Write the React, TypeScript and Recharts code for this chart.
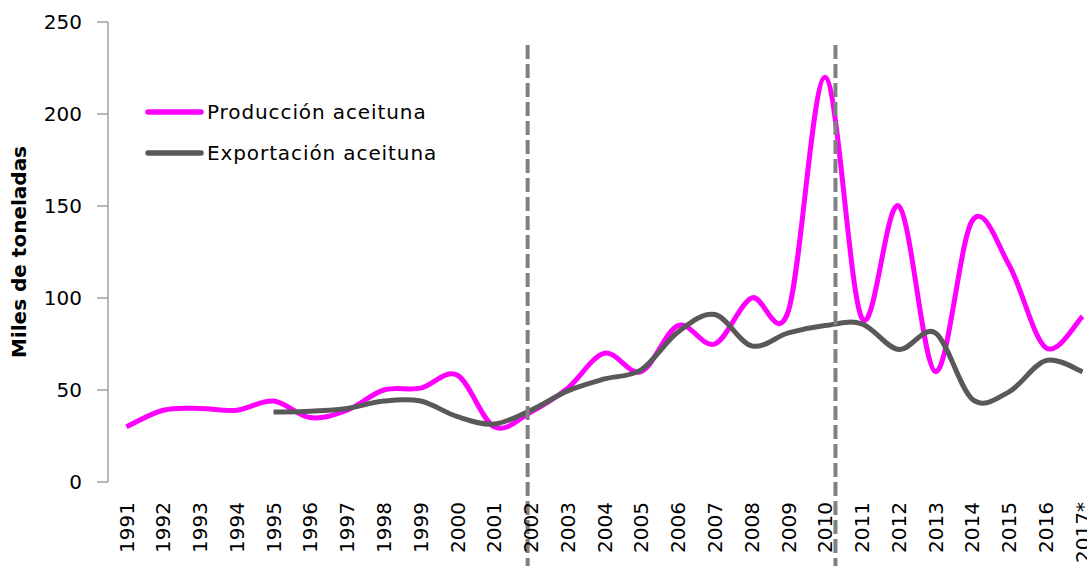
import { LineChart, Line, XAxis, YAxis, ReferenceLine, Legend } from 'recharts'

const years = [
  '1991', '1992', '1993', '1994', '1995', '1996', '1997', '1998', '1999',
  '2000', '2001', '2002', '2003', '2004', '2005', '2006', '2007', '2008',
  '2009', '2010', '2011', '2012', '2013', '2014', '2015', '2016', '2017*',
]

// miles de toneladas
const produccion = [
  30, 39, 40, 39, 44, 35, 39, 50, 51, 58, 30, 38, 51, 70, 60, 85, 75, 100,
  93, 220, 89, 150, 60, 142, 118, 73, 90,
]

const exportacion = [
  null, null, null, null, 38, 38.5, 40, 44, 44, 35.5, 31.5, 39, 49.5, 56,
  61, 81.5, 91, 74, 81, 85, 86, 72, 81, 45, 49, 66, 60,
]

const seriesNames = ['Producción aceituna', 'Exportación aceituna']

const yTicks = [0, 50, 100, 150, 200, 250]

// vertical dashed markers, in category index units (drawn by hand in the source)
const markers = [10.91, 19.28]
const markerTop = 237.5
const markerBottom = -46

const FONT = '"DejaVu Sans", sans-serif'
const AXIS = '#a0a0a0'

const data = years.map((year, i) => ({
  year,
  pos: i,
  produccion: produccion[i],
  exportacion: exportacion[i],
}))

const boundaries = years.map((_, i) => i - 0.5).concat(years.length - 0.5)

// Excel style smoothed line (Catmull-Rom through every point)
function excelSmooth(context: any) {
  let pts: [number, number][] = []
  return {
    areaStart() {},
    areaEnd() {},
    lineStart() {
      pts = []
    },
    lineEnd() {
      const n = pts.length
      if (n === 0) return
      context.moveTo(pts[0][0], pts[0][1])
      for (let i = 0; i < n - 1; i++) {
        const p0 = pts[Math.max(i - 1, 0)]
        const p1 = pts[i]
        const p2 = pts[i + 1]
        const p3 = pts[Math.min(i + 2, n - 1)]
        context.bezierCurveTo(
          p1[0] + (p2[0] - p0[0]) / 6,
          p1[1] + (p2[1] - p0[1]) / 6,
          p2[0] - (p3[0] - p1[0]) / 6,
          p2[1] - (p3[1] - p1[1]) / 6,
          p2[0],
          p2[1],
        )
      }
    },
    point(x: number, y: number) {
      pts.push([+x, +y])
    },
  }
}

const renderLegend = ({ payload }: any) => {
  const items = seriesNames
    .map((name) => (payload || []).find((p: any) => p.value === name))
    .filter(Boolean)
  return (
    <div>
      {items.map((entry: any) => (
        <div key={entry.value} style={{ display: 'flex', alignItems: 'center', height: 41 }}>
          <svg width={60} height={10}>
            <line x1={3} y1={5} x2={56} y2={5} stroke={entry.color} strokeWidth={5.5} strokeLinecap="round" />
          </svg>
          <span style={{ fontSize: 20, letterSpacing: 0.9, color: '#000', marginLeft: 2 }}>{entry.value}</span>
        </div>
      ))}
    </div>
  )
}

const YLabel = ({ viewBox }: any) => {
  const cx = viewBox.x + 19
  const cy = viewBox.y + viewBox.height / 2
  return (
    <text
      x={cx}
      y={cy}
      transform={`rotate(-90, ${cx}, ${cy})`}
      textAnchor="middle"
      dominantBaseline="central"
      fontSize={20}
      fontWeight="bold"
      fill="#000"
    >
      Miles de toneladas
    </text>
  )
}

export default function App() {
  return (
    <div
      style={{
        position: 'fixed',
        left: 0,
        top: 0,
        width: 1087,
        height: 566,
        overflow: 'hidden',
        background: '#fff',
        fontFamily: FONT,
      }}
    >
      <LineChart width={1105} height={566} data={data} margin={{ top: 22, right: 4, bottom: 0, left: 0 }}>
        <XAxis
          xAxisId="pos"
          dataKey="pos"
          type="number"
          domain={[-0.5, years.length - 0.5]}
          allowDataOverflow
          ticks={boundaries}
          interval={0}
          tick={false}
          height={0}
          tickSize={7}
          axisLine={{ stroke: AXIS, strokeWidth: 1.5 }}
          tickLine={{ stroke: AXIS, strokeWidth: 1.5 }}
        />
        <XAxis
          dataKey="year"
          interval={0}
          height={84}
          padding={{ left: 18.4, right: 18.4 }}
          axisLine={false}
          tickLine={false}
          tickSize={6}
          tickMargin={14}
          angle={-90}
          fontSize={20}
          tick={{ fontSize: 20, fill: '#000', textAnchor: 'end', dx: -7 }}
        />
        <YAxis
          width={108}
          domain={[0, 250]}
          ticks={yTicks}
          interval={0}
          tickSize={11}
          tickMargin={15}
          fontSize={20}
          axisLine={{ stroke: AXIS, strokeWidth: 1.5 }}
          tickLine={{ stroke: AXIS, strokeWidth: 1.5 }}
          tick={{ fontSize: 20, fill: '#000' }}
          label={{ position: 'insideLeft', content: <YLabel /> }}
        />
        <Legend
          layout="vertical"
          verticalAlign="middle"
          align="center"
          content={renderLegend}
          wrapperStyle={{ top: 91, left: 145, width: 'auto', height: 'auto' }}
        />
        <Line
          name={seriesNames[0]}
          dataKey="produccion"
          stroke="#ff00ff"
          strokeWidth={5}
          type={excelSmooth as any}
          dot={false}
          activeDot={false}
          isAnimationActive={false}
        />
        <Line
          name={seriesNames[1]}
          dataKey="exportacion"
          stroke="#595959"
          strokeWidth={5}
          type={excelSmooth as any}
          dot={false}
          activeDot={false}
          isAnimationActive={false}
        />
        {markers.map((m) => (
          <ReferenceLine
            key={m}
            xAxisId="pos"
            segment={[
              { x: m, y: markerTop },
              { x: m, y: markerBottom },
            ]}
            ifOverflow="visible"
            stroke="#808080"
            strokeWidth={4}
            strokeDasharray="14 5"
          />
        ))}
      </LineChart>
    </div>
  )
}
